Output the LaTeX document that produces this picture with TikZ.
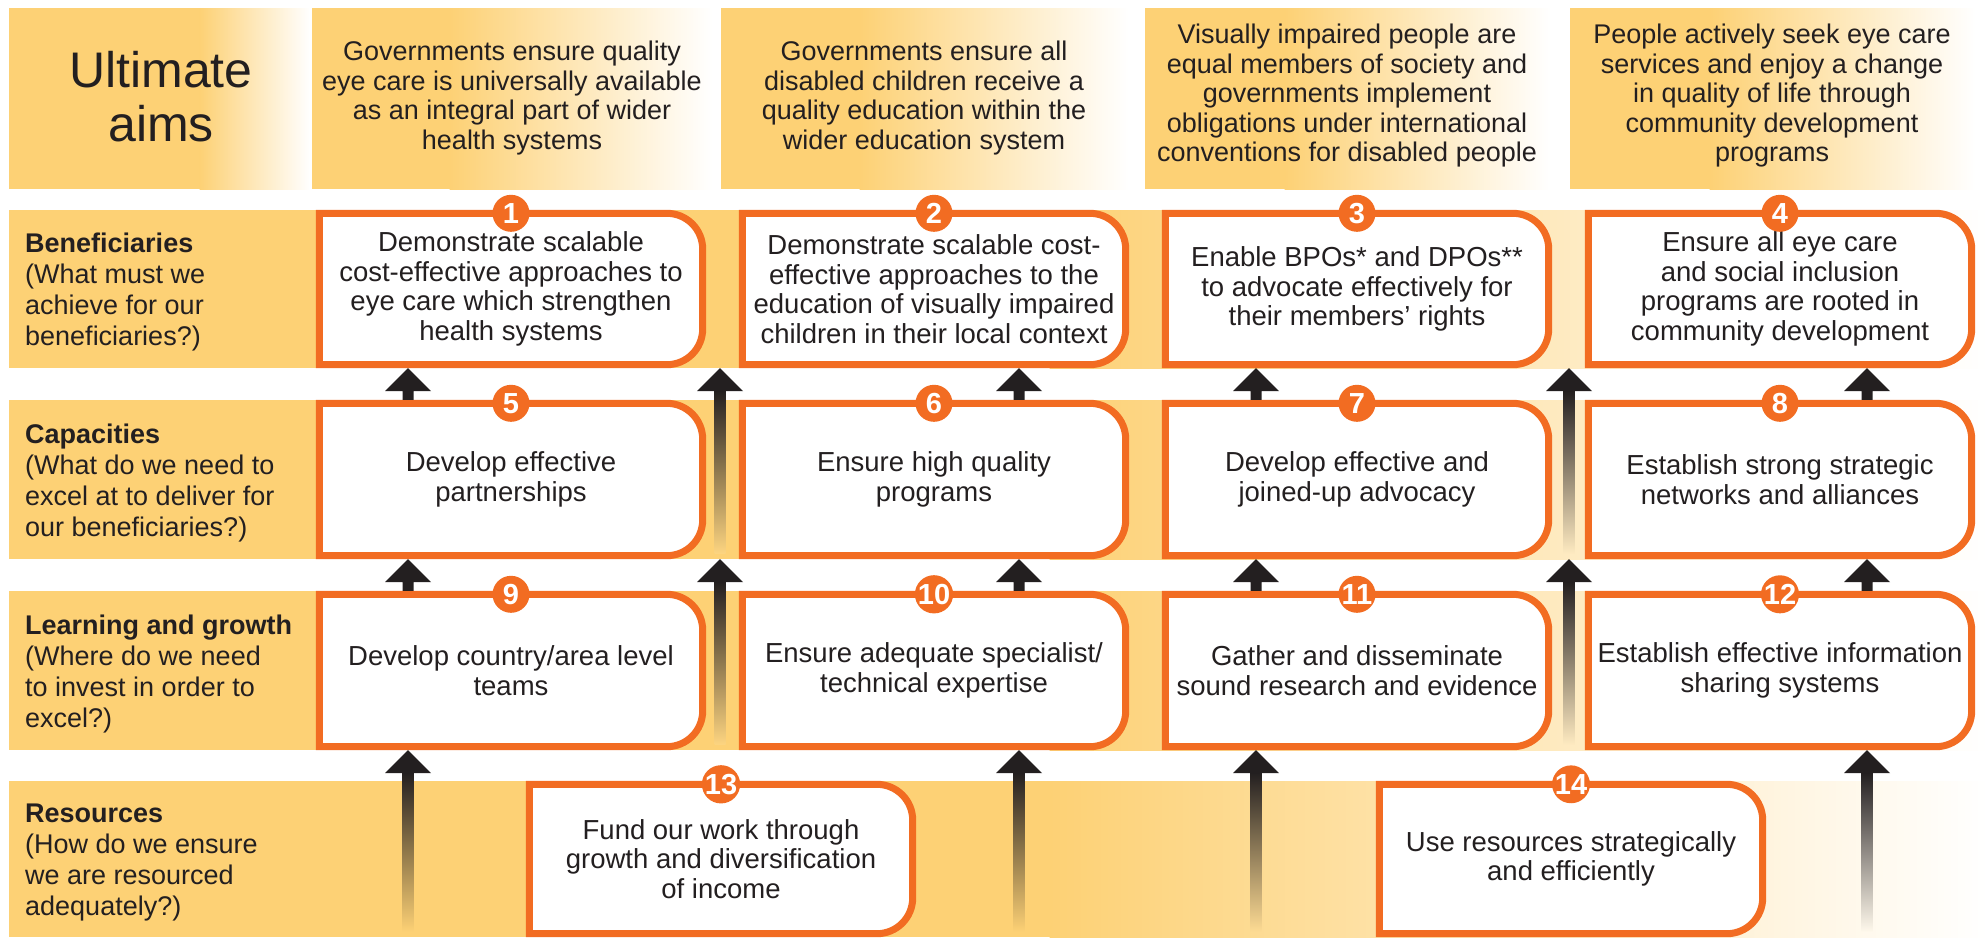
\documentclass[tikz,border=0pt]{standalone}
\usepackage{fontspec}
\setmainfont{Liberation Sans}
\usetikzlibrary{calc}
\pgfdeclarelayer{back}
\pgfdeclarelayer{mid}
\pgfsetlayers{back,mid,main}
\definecolor{band}{RGB}{253,209,117}
\definecolor{boxor}{RGB}{242,108,34}
\definecolor{ink}{RGB}{35,31,32}
\tikzset{
  boxline/.style={draw=boxor, line width=7pt, fill=white},
  boxtext/.style={align=center, inner sep=0pt, text=ink, font=\fontsize{27.5}{29.5}\selectfont},
  numcirc/.style={circle, fill=boxor, text=white, inner sep=0pt, minimum size=37pt, font=\bfseries\fontsize{29}{29}\selectfont},
  hdrtext/.style={align=center, text=ink, inner sep=0pt, font=\fontsize{27}{29.5}\selectfont},
  lbltext/.style={align=left, anchor=west, text=ink, inner sep=0pt, font=\fontsize{27}{31}\selectfont},
}
\newcommand\boxshape[1]{%
  \begin{pgfonlayer}{mid}
  \draw[boxline] (#1.north west) -- ($(#1.north east)+(-36,0)$)
    .. controls ($(#1.north east)+(-16,0)$) and ($(#1.north east)+(0,16)$) .. ($(#1.north east)+(0,36)$)
    -- ($(#1.south east)+(0,-36)$)
    .. controls ($(#1.south east)+(0,-16)$) and ($(#1.south east)+(-16,0)$) .. ($(#1.south east)+(-36,0)$)
    -- (#1.south west) -- cycle;
  \end{pgfonlayer}}
\newcommand\sarrow[3]{%
  \fill[ink] ($(#1 |- #2.south)+(0,3.5)$) -- ++(-23,23) -- ++(17.5,0)
    -- ($(#1 |- #3.north)+(-5.5,-3.5)$) -- ++(11,0)
    -- ($(#1 |- #2.south)+(5.5,26.5)$) -- ++(17.5,0) -- cycle;}
\newcommand\larrow[4]{%
  \shade[top color=ink, bottom color=#4] ($(#1 |- #2.south)+(-5.5,26)$) rectangle ($(#1 |- #3.south)+(5.5,-2)$);
  \fill[ink] ($(#1 |- #2.south)+(0,3.5)$) -- ++(-23,23) -- ++(46,0) -- cycle;}
\begin{document}
\begin{tikzpicture}[x=1pt,y=-1pt]
\useasboundingbox (0,0) rectangle (1988,937);
\begin{pgfonlayer}{back}
  \fill[white] (0,0) rectangle (1988,937);
  % header panels
  \fill[band] (9,8) rectangle (200,189);
  \shade[left color=band, right color=white] (199.5,8) rectangle (310,189);
  \fill[band] (312,8) rectangle (450,189);
  \shade[left color=band, right color=white] (449.5,8) rectangle (712,189);
  \fill[band] (721,8) rectangle (860,189);
  \shade[left color=band, right color=white] (859.5,8) rectangle (1128,189);
  \fill[band] (1145,8) rectangle (1285,189);
  \shade[left color=band, right color=white] (1284.5,8) rectangle (1550,189);
  \fill[band] (1570,8) rectangle (1710,189);
  \shade[left color=band, right color=white] (1709.5,8) rectangle (1975,189);
  % row bands
  \foreach \t/\b in {210/368, 400/559, 591/750, 781/937}{
    \fill[band] (9,\t) rectangle (1050,\b);
    \shade[left color=band, right color=white] (1049.5,\t) rectangle (1988,\b);
  }
\end{pgfonlayer}

% header texts
\node[align=center, text=ink, inner sep=0pt, font=\fontsize{50}{54}\selectfont] (h0) at (161,97) {Ultimate\\aims};
\node[hdrtext] (h1) at (512,98) {Governments ensure quality\\eye care is universally available\\as an integral part of wider\\health systems};
\node[hdrtext] (h2) at (924,98) {Governments ensure all\\disabled children receive a\\quality education within the\\wider education system};
\node[hdrtext] (h3) at (1347,96) {Visually impaired people are\\equal members of society and\\governments implement\\obligations under international\\conventions for disabled people};
\node[hdrtext] (h4) at (1772,96) {People actively seek eye care\\services and enjoy a change\\in quality of life through\\community development\\programs};

% row labels
\node[lbltext] (l1) at (25,292) {\textbf{Beneficiaries}\\(What must we\\achieve for our\\beneficiaries?)};
\node[lbltext] (l2) at (25,483) {\textbf{Capacities}\\(What do we need to\\excel at to deliver for\\our beneficiaries?)};
\node[lbltext] (l3) at (25,674) {\textbf{Learning and growth}\\(Where do we need\\to invest in order to\\excel?)};
\node[lbltext] (l4) at (25,862) {\textbf{Resources}\\(How do we ensure\\we are resourced\\adequately?)};

% boxes row 1
\node[boxtext, minimum width=383pt, minimum height=151pt] (b1) at (511,289) {Demonstrate scalable\\cost-effective approaches to\\eye care which strengthen\\health systems};
\node[boxtext, minimum width=383pt, minimum height=151pt] (b2) at (934,289) {Demonstrate scalable cost-\\effective approaches to the\\education of visually impaired\\children in their local context};
\node[boxtext, minimum width=383pt, minimum height=151pt] (b3) at (1357,289) {Enable BPOs* and DPOs**\\to advocate effectively for\\their members’ rights};
\node[boxtext, minimum width=383pt, minimum height=151pt] (b4) at (1780,289) {Ensure all eye care\\and social inclusion\\programs are rooted in\\community development};
% row 2
\node[boxtext, minimum width=383pt, minimum height=152pt] (b5) at (511,479.5) {Develop effective\\partnerships};
\node[boxtext, minimum width=383pt, minimum height=152pt] (b6) at (934,479.5) {Ensure high quality\\programs};
\node[boxtext, minimum width=383pt, minimum height=152pt] (b7) at (1357,479.5) {Develop effective and\\joined-up advocacy};
\node[boxtext, minimum width=383pt, minimum height=152pt] (b8) at (1780,479.5) {Establish strong strategic\\networks and alliances};
% row 3
\node[boxtext, minimum width=383pt, minimum height=152pt] (b9) at (511,670.5) {Develop country/area level\\teams};
\node[boxtext, minimum width=383pt, minimum height=152pt] (b10) at (934,670.5) {Ensure adequate specialist/\\technical expertise};
\node[boxtext, minimum width=383pt, minimum height=152pt] (b11) at (1357,670.5) {Gather and disseminate\\sound research and evidence};
\node[boxtext, minimum width=383pt, minimum height=152pt] (b12) at (1780,670.5) {Establish effective information\\sharing systems};
% row 4
\node[boxtext, minimum width=383pt, minimum height=149pt] (b13) at (721,859) {Fund our work through\\growth and diversification\\of income};
\node[boxtext, minimum width=383pt, minimum height=149pt] (b14) at (1571,859) {Use resources strategically\\and efficiently};

\foreach \n in {b1,b2,b3,b4,b5,b6,b7,b8,b9,b10,b11,b12,b13,b14}{\boxshape{\n}}

% number circles
\foreach \n/\k in {b1/1,b2/2,b3/3,b4/4,b5/5,b6/6,b7/7,b8/8,b9/9,b10/10,b11/11,b12/12,b13/13,b14/14}{
  \node[numcirc] (n\k) at (\n.north) {\k};
}

% arrow columns
\coordinate (xA) at (408,0);
\coordinate (xB) at (720,0);
\coordinate (xC) at (1019,0);
\coordinate (xD) at (1256,0);
\coordinate (xE) at (1569,0);
\coordinate (xF) at (1867,0);

% short arrows
\sarrow{xA}{b1}{b5}
\sarrow{xC}{b2}{b6}
\sarrow{xD}{b3}{b7}
\sarrow{xF}{b4}{b8}
\sarrow{xA}{b5}{b9}
\sarrow{xC}{b6}{b10}
\sarrow{xD}{b7}{b11}
\sarrow{xF}{b8}{b12}

% long arrows
\larrow{xB}{b1}{b5}{band!92!white}
\larrow{xE}{b3}{b7}{band!45!white}
\larrow{xB}{b5}{b9}{band!92!white}
\larrow{xE}{b7}{b11}{band!45!white}
\larrow{xA}{b9}{b13}{band}
\larrow{xC}{b10}{b13}{band}
\larrow{xD}{b11}{b14}{band!78!white}
\larrow{xF}{b12}{b14}{band!14!white}
\end{tikzpicture}
\end{document}
